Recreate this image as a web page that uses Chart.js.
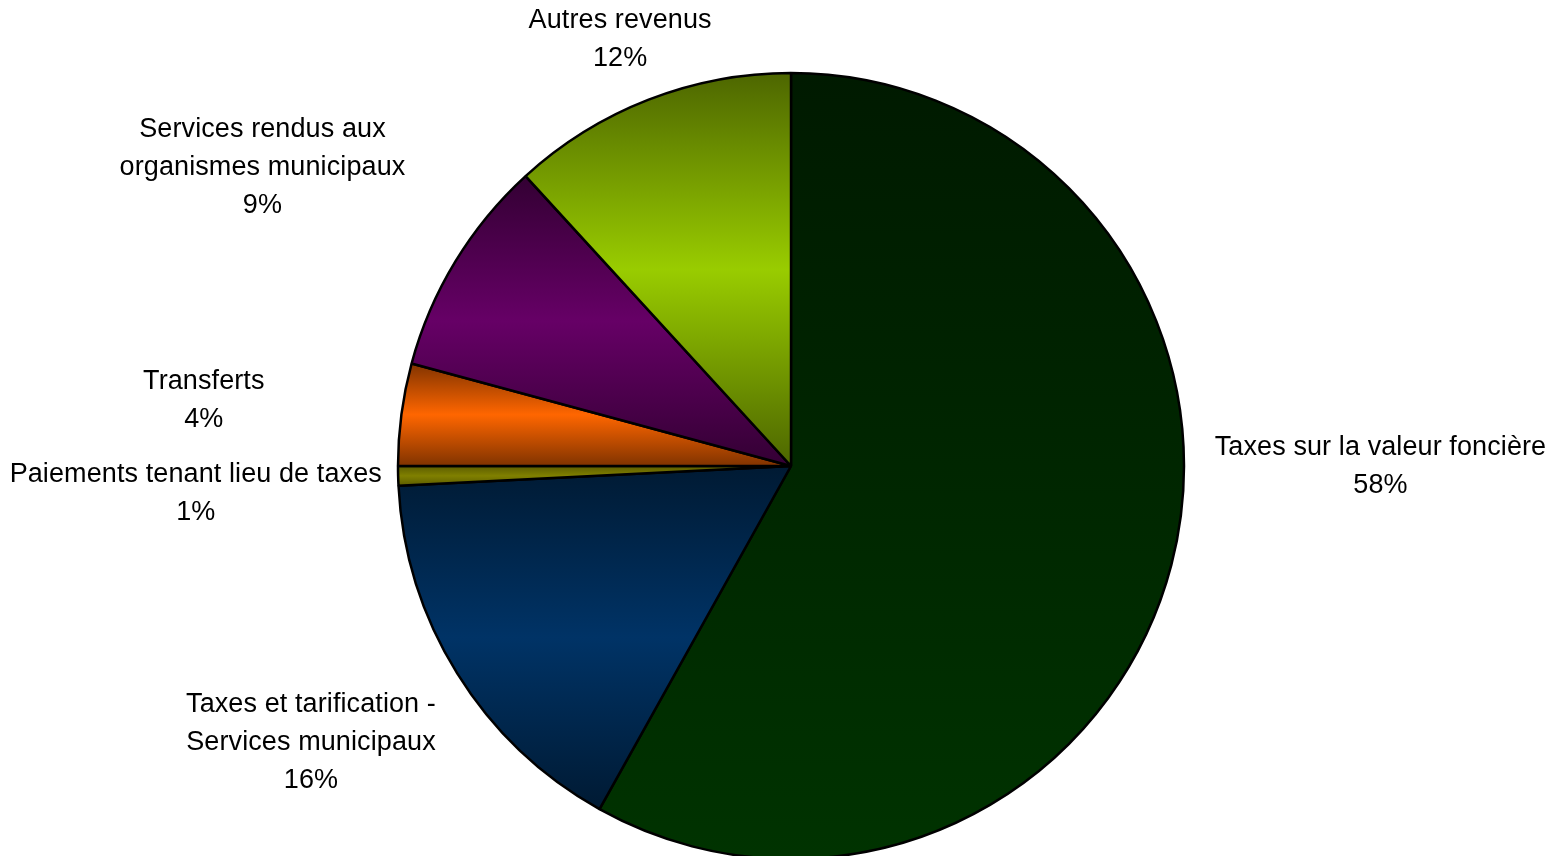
<!DOCTYPE html>
<html>
<head>
<meta charset="utf-8">
<title>Revenus</title>
<script src="https://cdn.jsdelivr.net/npm/chart.js@4/dist/chart.umd.min.js"></script>
<style>
  html, body { margin: 0; padding: 0; background: #fff; }
  #wrap { width: 1568px; height: 856px; position: relative; }
</style>
</head>
<body>
<div id="wrap"><canvas id="draw"></canvas></div>
<script>
// categories (one array entry per label line)
const categories = [
	["Taxes sur la valeur foncière"],
	["Taxes et tarification -", "Services municipaux"],
	["Paiements tenant lieu de taxes"],
	["Transferts"],
	["Services rendus aux", "organismes municipaux"],
	["Autres revenus"],
];
// share of revenues, in %
const shares = [58.1, 16.1, 0.8, 4.2, 9.0, 11.8];

// gradient stops per slice: top, middle, bottom
const gradTop = ["#001a00", "#001a33", "#5c5c00", "#803300", "#330033", "#4d6600"];
const gradMid = ["#002600", "#003366", "#808000", "#ff6600", "#660066", "#99cc00"];
const gradBot = ["#003300", "#001a33", "#5c5c00", "#803300", "#330033", "#4d6600"];

// label placement: angle shift from slice middle (deg) and distance (x radius)
const labelShift = [-14.7, 2.1, -1.0, -1.0, -1.7, -0.5];
const labelDist = [1.50, 1.407, 1.516, 1.504, 1.547, 1.174];

const RADIUS = 393;
const total = shares.reduce((a, b) => a + b, 0);

function sliceGradient(context) {
	const chart = context.chart;
	const area = chart.chartArea;
	const i = context.dataIndex;
	if (!area) return gradMid[i];
	const cx = (area.left + area.right) / 2;
	const cy = (area.top + area.bottom) / 2;
	let before = 0;
	for (let k = 0; k < i; k++) before += shares[k];
	const a0 = -Math.PI / 2 + (before / total) * Math.PI * 2;
	const a1 = a0 + (shares[i] / total) * Math.PI * 2;
	// vertical extent of the slice
	let ys = [cy, cy + RADIUS * Math.sin(a0), cy + RADIUS * Math.sin(a1)];
	const tests = [-Math.PI / 2, Math.PI / 2, Math.PI * 1.5];
	tests.forEach((t) => {
		if (t >= a0 && t <= a1) ys.push(cy + RADIUS * Math.sin(t));
	});
	const yMin = Math.min(...ys);
	const yMax = Math.max(...ys);
	const g = chart.ctx.createLinearGradient(0, yMin, 0, yMax);
	g.addColorStop(0, gradTop[i]);
	g.addColorStop(0.5, gradMid[i]);
	g.addColorStop(1, gradBot[i]);
	return g;
}

const outsideLabels = {
	id: "outsideLabels",
	afterDatasetsDraw(chart) {
		const ctx = chart.ctx;
		const meta = chart.getDatasetMeta(0);
		ctx.save();
		ctx.font = '27px "Liberation Sans", Arial, sans-serif';
		ctx.letterSpacing = "0.1px";
		ctx.fillStyle = "#000";
		ctx.textAlign = "center";
		ctx.textBaseline = "middle";
		meta.data.forEach((arc, i) => {
			const mid = (arc.startAngle + arc.endAngle) / 2 + labelShift[i] * Math.PI / 180;
			const d = labelDist[i] * arc.outerRadius;
			const x = arc.x + Math.cos(mid) * d;
			const y = arc.y + Math.sin(mid) * d + 2;
			const lines = categories[i].concat([Math.round(shares[i] / total * 100) + "%"]);
			const lh = 38;
			lines.forEach((line, j) => {
				ctx.fillText(line, x, y + (j - (lines.length - 1) / 2) * lh);
			});
		});
		ctx.restore();
	},
};

const config = {
	type: "pie",
	data: {
		labels: categories,
		datasets: [
			{
				data: shares,
				backgroundColor: sliceGradient,
				borderColor: "#000",
				borderWidth: 2.5,
				hoverOffset: 0,
				clip: false,
			},
		],
	},
	options: {
		responsive: true,
		maintainAspectRatio: false,
		animation: false,
		radius: RADIUS,
		layout: {
			padding: { left: 14, top: 76, right: 0, bottom: 0 },
		},
		plugins: {
			legend: { display: false },
			tooltip: { enabled: false },
		},
	},
	plugins: [outsideLabels],
};

let myChart = new Chart(document.getElementById("draw").getContext("2d"), config);
</script>
</body>
</html>
